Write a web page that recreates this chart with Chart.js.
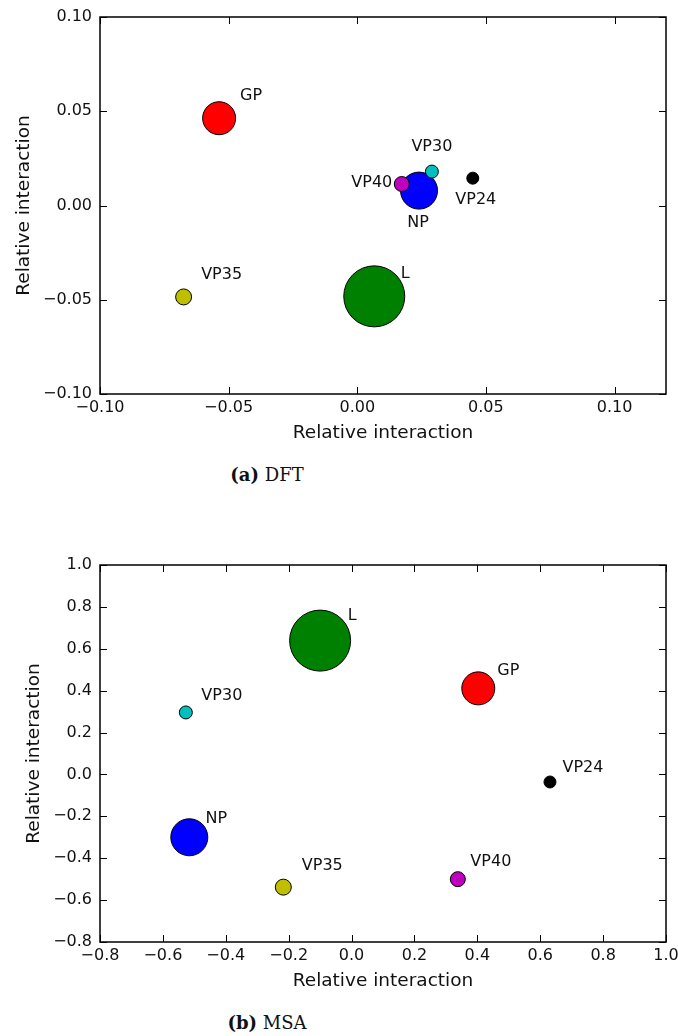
<!DOCTYPE html>
<html>
<head>
<meta charset="utf-8">
<script src="https://cdn.jsdelivr.net/npm/chart.js@4"></script>
<style>
  body { margin: 0; background: #fff; }
  #page { position: relative; width: 678px; height: 1036px; background: #fff; overflow: hidden; }
  canvas { position: absolute; left: 0; }
  .caption { position: absolute; left: 167px; width: 200px; text-align: center;
             font-family: "DejaVu Serif", serif; font-size: 18px; line-height: 20px; color: #111; }
</style>
</head>
<body>
<div id="page">
  <canvas id="dft" width="678" height="450" style="top:0"></canvas>
  <div class="caption" style="top:465px"><b>(a)</b> DFT</div>
  <canvas id="msa" width="678" height="480" style="top:520px"></canvas>
  <div class="caption" style="top:1013px"><b>(b)</b> MSA</div>
</div>
<script>
// proteins, drawn in this order (NP goes under VP30 / VP40)
const proteins = ["L", "GP", "NP", "VP24", "VP30", "VP35", "VP40"];

// (a) DFT
const dftX = [0.0066, -0.0537, 0.0240, 0.0449, 0.0290, -0.0675, 0.0173];
const dftY = [-0.0482, 0.0463, 0.0079, 0.0145, 0.0180, -0.0485, 0.0114];
const dftXTicks = [-0.10, -0.05, 0.00, 0.05, 0.10];
const dftYTicks = [-0.10, -0.05, 0.00, 0.05, 0.10];

// (b) MSA
const msaX = [-0.100, 0.403, -0.516, 0.631, -0.527, -0.217, 0.338];
const msaY = [0.639, 0.411, -0.300, -0.036, 0.296, -0.538, -0.500];
const msaXTicks = [-0.8, -0.6, -0.4, -0.2, 0.0, 0.2, 0.4, 0.6, 0.8, 1.0];
const msaYTicks = [-0.8, -0.6, -0.4, -0.2, 0.0, 0.2, 0.4, 0.6, 0.8, 1.0];

// marker look
const markerRadius = [30.5, 16.5, 18.5, 6, 6.5, 8, 7.5];
const markerColors = ["#008000", "#ff0000", "#0000ff", "#000000", "#00bfbf", "#bfbf00", "#bf00bf"];

// label offsets from the point centre (px)
const dftLabelOffset = [[31, -23], [32, -22], [-1, 32], [3, 22], [0, -25], [38, -22], [-30, -1]];
const msaLabelOffset = [[32, -25], [30, -18], [27, -18], [33, -14], [36, -17], [39, -21], [33, -17]];

const textColor = "#111";

function fmt(v, decimals) {
  if (Math.abs(v) < 1e-9) v = 0;
  return v.toFixed(decimals).replace("-", "\u2212");
}

const framePlugin = {
  id: "frame",
  beforeDatasetsDraw(chart) {
    const { ctx, chartArea: a, scales: { x, y } } = chart;
    ctx.save();
    ctx.strokeStyle = "#000";
    ctx.lineWidth = 1;
    ctx.beginPath();
    x.ticks.forEach(t => {
      const px = Math.round(x.getPixelForValue(t.value)) + 0.5;
      ctx.moveTo(px, a.bottom); ctx.lineTo(px, a.bottom - 7);
      ctx.moveTo(px, a.top); ctx.lineTo(px, a.top + 7);
    });
    y.ticks.forEach(t => {
      const py = Math.round(y.getPixelForValue(t.value)) + 0.5;
      ctx.moveTo(a.left, py); ctx.lineTo(a.left + 7, py);
      ctx.moveTo(a.right, py); ctx.lineTo(a.right - 7, py);
    });
    ctx.stroke();
    ctx.lineWidth = 1.5;
    ctx.strokeRect(a.left, a.top, a.right - a.left, a.bottom - a.top);
    ctx.restore();
  }
};

const labelPlugin = {
  id: "pointLabels",
  afterDatasetsDraw(chart, args, opts) {
    const { ctx } = chart;
    const meta = chart.getDatasetMeta(0);
    ctx.save();
    ctx.font = "16px 'DejaVu Sans'";
    ctx.fillStyle = textColor;
    ctx.textAlign = "center";
    ctx.textBaseline = "middle";
    meta.data.forEach((pt, i) => {
      const off = opts.offsets[i];
      ctx.fillText(proteins[i], pt.x + off[0], pt.y + off[1]);
    });
    ctx.restore();
  }
};

function makeChart(id, xs, ys, xTicks, yTicks, xMin, xMax, yMin, yMax, decimals, offsets, lay) {
  return new Chart(document.getElementById(id), {
    type: "bubble",
    data: {
      datasets: [{
        data: xs.map((v, i) => ({ x: v, y: ys[i], r: markerRadius[i] })),
        backgroundColor: markerColors,
        borderColor: "#000",
        borderWidth: 1
      }]
    },
    options: {
      responsive: false,
      animation: false,
      events: [],
      layout: { autoPadding: false, padding: { top: lay.top, right: 12, left: 0, bottom: 0 } },
      plugins: {
        legend: { display: false },
        tooltip: { enabled: false },
        pointLabels: { offsets: offsets }
      },
      scales: {
        x: {
          type: "linear", min: xMin, max: xMax,
          afterBuildTicks: s => { s.ticks = xTicks.map(v => ({ value: v })); },
          afterFit: s => { s.height = lay.xHeight; s.paddingLeft = 0; s.paddingRight = 0; },
          grid: { display: false, drawTicks: false },
          border: { display: false },
          ticks: {
            padding: 4, color: textColor, maxRotation: 0, autoSkip: false,
            font: { family: "DejaVu Sans", size: 16 },
            callback: v => fmt(v, decimals)
          },
          title: {
            display: true, text: "Relative interaction", color: textColor,
            font: { family: "DejaVu Sans", size: 18.5 },
            padding: { top: 0, bottom: lay.xTitlePad }
          }
        },
        y: {
          type: "linear", min: yMin, max: yMax,
          afterBuildTicks: s => { s.ticks = yTicks.map(v => ({ value: v })); },
          afterFit: s => { s.width = 100; s.paddingTop = 0; s.paddingBottom = 0; },
          grid: { display: false, drawTicks: false },
          border: { display: false },
          ticks: {
            padding: 8, color: textColor, autoSkip: false,
            font: { family: "DejaVu Sans", size: 16 },
            callback: v => fmt(v, decimals)
          },
          title: {
            display: true, text: "Relative interaction", color: textColor,
            font: { family: "DejaVu Sans", size: 18.5 },
            padding: { top: lay.yTitlePad, bottom: 0 }
          }
        }
      }
    },
    plugins: [framePlugin, labelPlugin]
  });
}

makeChart("dft", dftX, dftY, dftXTicks, dftYTicks, -0.10, 0.12, -0.10, 0.10, 2, dftLabelOffset,
  { top: 17, xHeight: 56, xTitlePad: 6, yTitlePad: 13 });
makeChart("msa", msaX, msaY, msaXTicks, msaYTicks, -0.8, 1.0, -0.8, 1.0, 1, msaLabelOffset,
  { top: 45, xHeight: 58, xTitlePad: 8, yTitlePad: 23 });
</script>
</body>
</html>
